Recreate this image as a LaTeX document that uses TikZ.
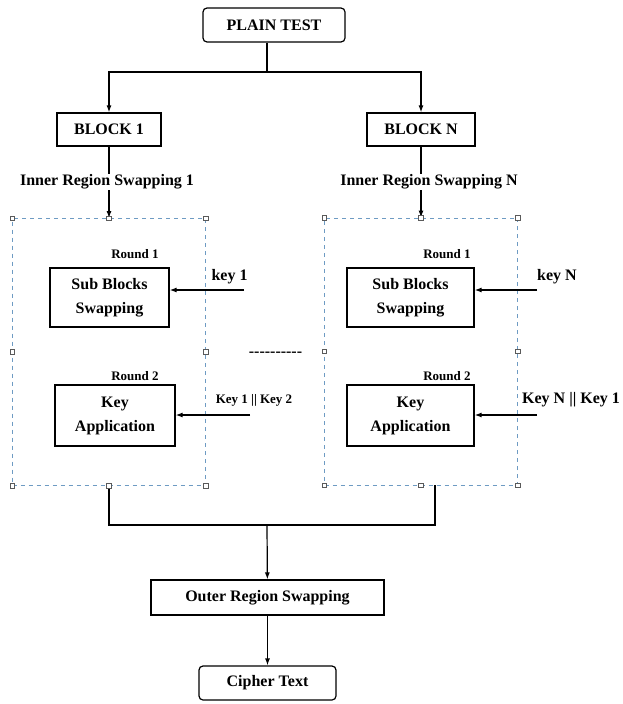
\documentclass[tikz,border=0pt]{standalone}
\usepackage{fontspec}
\setmainfont{Liberation Serif}
\usetikzlibrary{arrows.meta}
\definecolor{frameblue}{RGB}{110,155,195}
\definecolor{handlegrey}{RGB}{90,90,90}

\begin{document}
\begin{tikzpicture}[x=1pt, y=-1pt,
    box/.style={rectangle, draw=black, line width=1.2pt, fill=white, align=center,
                font=\fontsize{16}{24}\selectfont\bfseries, inner sep=2pt},
    endbox/.style={box, rounded corners=4pt},
    frame/.style={rectangle, draw=frameblue, line width=0.8pt, dash pattern=on 4pt off 4pt,
                  minimum width=193pt, minimum height=267pt},
    handle/.style={rectangle, draw=handlegrey, fill=white, line width=0.6pt,
                   minimum size=4.5pt, inner sep=0pt},
    lbl/.style={font=\fontsize{16}{17}\selectfont\bfseries, inner sep=1pt},
    small/.style={font=\fontsize{13}{14}\selectfont\bfseries, inner sep=1pt},
    link/.style={line width=1.2pt},
    arr/.style={link, -{Latex[length=7pt,width=5pt]}}]
\useasboundingbox (0,0) rectangle (622,704);
% top: plain text split into the two blocks
\node[endbox, minimum width=142pt, minimum height=34pt] (plain) at (274,25) {PLAIN TEST};
\node[box, minimum width=104pt, minimum height=33pt] (blk1) at (109,129.5) {BLOCK 1};
\node[box, minimum width=108pt, minimum height=33pt] (blkn) at (421,129.5) {BLOCK N};
\coordinate (split) at (267,72);
\draw[link] (plain.south -| split) -- (split);
\draw[arr] (split) -| (blk1);
\draw[arr] (split) -| (blkn);
% dashed inner regions
\node[frame] (fr1) at (109,352) {};
\node[frame] (frn) at (421,351.5) {};
\draw[arr] (blk1) -- (fr1.north);
\draw[arr] (blkn) -- (frn.north);
\node[lbl, fill=white] (in1) at (107,182) {Inner Region Swapping 1};
\node[lbl, fill=white] (inn) at (429,182) {Inner Region Swapping N};
% rounds inside the left region
\node[box, minimum width=119pt, minimum height=59pt] (sub1) at (109.5,297.5) {Sub Blocks\\Swapping};
\node[box, minimum width=120pt, minimum height=61pt] (app1) at (115,415.5) {Key\\Application};
\node[small] (r11) at (135,254) {Round 1};
\node[small] (r12) at (135,376) {Round 2};
% rounds inside the right region
\node[box, minimum width=127pt, minimum height=59pt] (subn) at (410.5,297.5) {Sub Blocks\\Swapping};
\node[box, minimum width=127pt, minimum height=61pt] (appn) at (410.5,415.5) {Key\\Application};
\node[small] (rn1) at (447,254) {Round 1};
\node[small] (rn2) at (447,376) {Round 2};
% keys entering from the right
\coordinate (k1) at (244,290);
\coordinate (k12) at (250,415);
\coordinate (kn) at (537,290);
\coordinate (kn1) at (537,415);
\draw[arr] (k1) -- (k1 -| sub1.east);
\draw[arr] (k12) -- (k12 -| app1.east);
\draw[arr] (kn) -- (kn -| subn.east);
\draw[arr] (kn1) -- (kn1 -| appn.east);
\node[lbl] (k1lbl) at (229.5,277) {key 1};
\node[small] (k12lbl) at (254,400) {Key 1 || Key 2};
\node[lbl] (knlbl) at (557,277) {key N};
\node[lbl] (kn1lbl) at (571,400) {Key N || Key 1};
% gap between the regions
\node[lbl] (dots) at (275.5,354) {-{}-{}-{}-{}-{}-{}-{}-{}-{}-};
% join into the outer swap
\node[box, minimum width=233pt, minimum height=35pt] (outer) at (267.5,597.5) {Outer Region Swapping};
\node[endbox, minimum width=137pt, minimum height=34pt] (cipher) at (267.5,683) {Cipher Text};
\coordinate (join) at (267,525);
\coordinate (rjoin) at (435,485);
\draw[link] (fr1.south) |- (join) -| (rjoin);
\draw[arr] (join) -- (outer);
\draw[arr] (outer) -- (cipher);
% selection handles on the regions
\foreach \f in {fr1,frn}
  \foreach \a in {north west,north,north east,east,south east,south,south west,west}
    \node[handle] at (\f.\a) {};
\end{tikzpicture}
\end{document}
